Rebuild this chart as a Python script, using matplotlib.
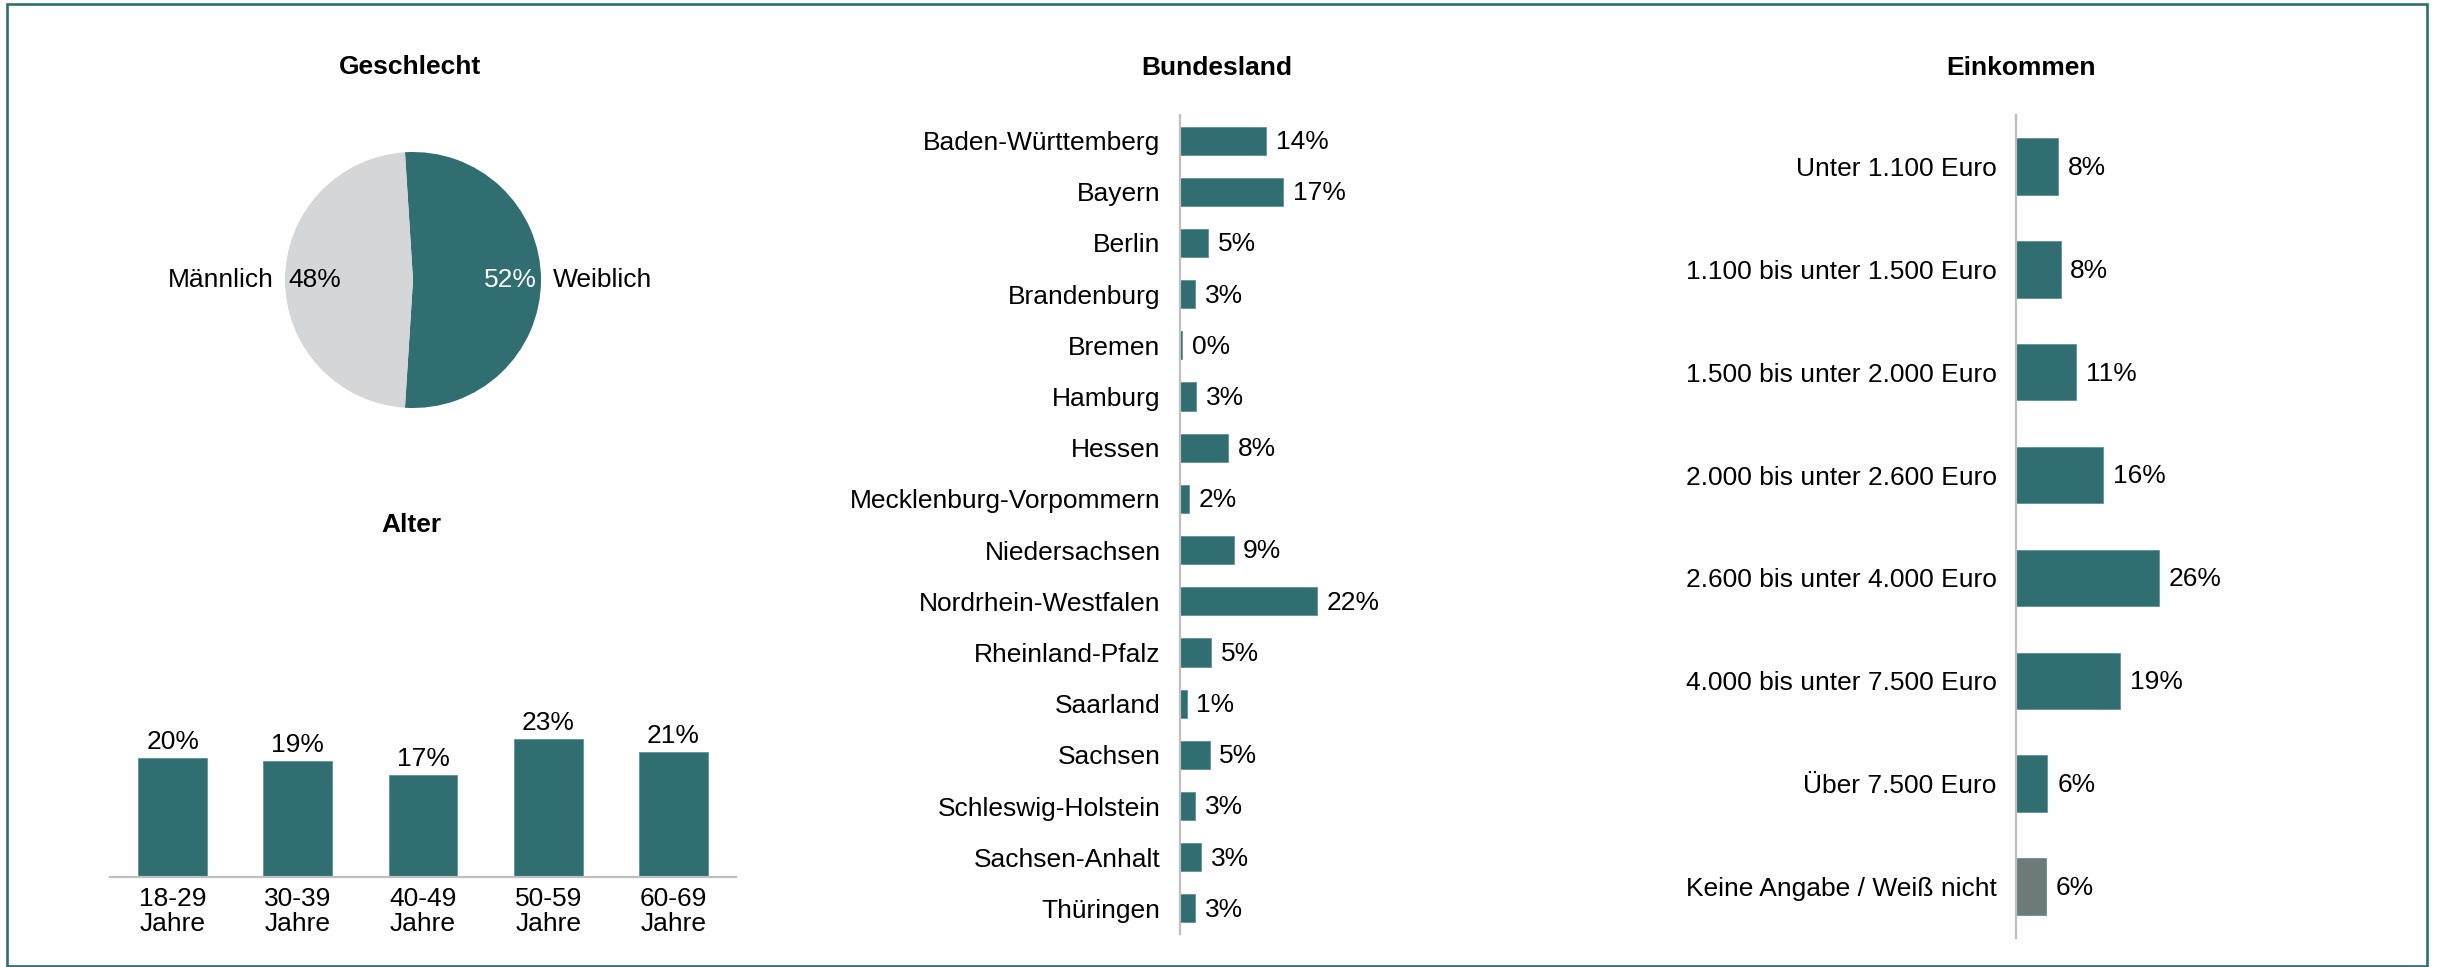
import matplotlib
matplotlib.use("Agg")
import matplotlib.pyplot as plt
from matplotlib.patches import Rectangle

plt.rcParams['font.family'] = ['Liberation Sans', 'DejaVu Sans']

# ---------------- data ----------------
gender_labels = ["Weiblich", "Männlich"]
gender_values = [52, 48]
gender_pct = ["52%", "48%"]

age_labels = ["18-29\nJahre", "30-39\nJahre", "40-49\nJahre", "50-59\nJahre", "60-69\nJahre"]
age_values = [19.9, 19.4, 17.0, 23.0, 20.8]
age_pct = ["20%", "19%", "17%", "23%", "21%"]

state_labels = ["Baden-Württemberg", "Bayern", "Berlin", "Brandenburg", "Bremen", "Hamburg",
                "Hessen", "Mecklenburg-Vorpommern", "Niedersachsen", "Nordrhein-Westfalen",
                "Rheinland-Pfalz", "Saarland", "Sachsen", "Schleswig-Holstein",
                "Sachsen-Anhalt", "Thüringen"]
state_values = [14.0, 16.8, 4.6, 2.5, 0.3, 2.6, 7.8, 1.5, 8.7, 22.2, 5.0, 1.1, 4.8, 2.5, 3.4, 2.5]
state_pct = ["14%", "17%", "5%", "3%", "0%", "3%", "8%", "2%", "9%", "22%",
             "5%", "1%", "5%", "3%", "3%", "3%"]

income_labels = ["Unter 1.100 Euro", "1.100 bis unter 1.500 Euro", "1.500 bis unter 2.000 Euro",
                 "2.000 bis unter 2.600 Euro", "2.600 bis unter 4.000 Euro",
                 "4.000 bis unter 7.500 Euro", "Über 7.500 Euro", "Keine Angabe / Weiß nicht"]
income_values = [7.8, 8.2, 11.1, 16.0, 26.4, 19.2, 5.8, 5.5]
income_pct = ["8%", "8%", "11%", "16%", "26%", "19%", "6%", "6%"]

# ---------------- style ----------------
TEAL = "#306E72"
PIE_GREY = "#D5D6D8"
DARK_GREY = "#6F7B7B"
AXIS_GREY = "#BFBFBF"
FS = 19

W, H = 2440, 967
fig = plt.figure(figsize=(W / 100, H / 100), dpi=100)
fig.patch.set_facecolor("white")


def px_axes(x0, y0_top, x1, y1_bottom):
    """Create axes from pixel box (top-left origin)."""
    return fig.add_axes([x0 / W, 1 - y1_bottom / H, (x1 - x0) / W, (y1_bottom - y0_top) / H])


def title_at(x, y, s):
    fig.text(x / W, 1 - y / H, s, ha="center", va="center", fontsize=FS, fontweight="bold")


# border
fig.add_artist(Rectangle((7 / W, 1.5 / H), (2427 - 7) / W, (965.5 - 4) / H,
                         transform=fig.transFigure, fill=False, edgecolor="#2E6E72",
                         linewidth=1.9))

# ---------------- Geschlecht (pie) ----------------
title_at(410, 67, "Geschlecht")
cx, cy, r = 413, 280, 128
axp = px_axes(cx - r, cy - r, cx + r, cy + r)
axp.pie(gender_values, colors=[TEAL, PIE_GREY], startangle=90 + 3.6, counterclock=False,
        radius=1, wedgeprops=dict(linewidth=0))
axp.set_xlim(-1, 1)
axp.set_ylim(-1, 1)
axp.set_aspect("equal")
axp.axis("off")
axp.text(0.76, 0.0, gender_pct[0], ha="center", va="center", fontsize=FS, color="white")
axp.text(1.09, 0.0, gender_labels[0], ha="left", va="center", fontsize=FS, color="black")
axp.text(-0.77, 0.0, gender_pct[1], ha="center", va="center", fontsize=FS, color="black")
axp.text(-1.09, 0.0, gender_labels[1], ha="right", va="center", fontsize=FS, color="black")

# ---------------- Alter (column chart) ----------------
title_at(411, 525, "Alter")
base_y = 877
top_y = 640
axa = px_axes(110, top_y, 736, base_y)
xs = list(range(len(age_values)))
axa.bar(xs, age_values, width=0.55, color=TEAL, edgecolor="#5E9397", linewidth=0.6)
axa.set_xlim(-0.5, len(age_values) - 0.5)
axa.set_ylim(0, (base_y - top_y) / 5.99)
for s in ["top", "right", "left"]:
    axa.spines[s].set_visible(False)
axa.spines["bottom"].set_color(AXIS_GREY)
axa.spines["bottom"].set_linewidth(1.6)
axa.set_yticks([])
axa.set_xticks(xs)
axa.set_xticklabels(age_labels, fontsize=FS, linespacing=1.05)
axa.tick_params(axis="x", length=0, pad=7)
for x, v, t in zip(xs, age_values, age_pct):
    axa.annotate(t, (x, v), xytext=(0, 3), textcoords="offset points",
                 ha="center", va="bottom", fontsize=FS)


def hbar_panel(x_axis, y_top, y_bottom, width_px, px_per_pct, labels, values, pcts, colors):
    ax = px_axes(x_axis, y_top, x_axis + width_px, y_bottom)
    ys = list(range(len(values)))
    ax.barh(ys, values, height=0.55, color=colors, edgecolor="#5E9397", linewidth=0.6)
    ax.set_ylim(len(values) - 0.5, -0.5)
    ax.set_xlim(0, width_px / px_per_pct)
    for s in ["top", "right", "bottom"]:
        ax.spines[s].set_visible(False)
    ax.spines["left"].set_color(AXIS_GREY)
    ax.spines["left"].set_linewidth(1.6)
    ax.set_xticks([])
    ax.set_yticks(ys)
    ax.set_yticklabels(labels, fontsize=FS)
    ax.tick_params(axis="y", length=0, pad=14)
    for y, v, t in zip(ys, values, pcts):
        ax.annotate(t, (v, y), xytext=(7, -1), textcoords="offset points",
                    ha="left", va="center", fontsize=FS)
    return ax


# ---------------- Bundesland ----------------
title_at(1217, 68, "Bundesland")
hbar_panel(1180, 115, 934, 260, 6.15, state_labels, state_values, state_pct,
           [TEAL] * len(state_values))

# ---------------- Einkommen ----------------
title_at(2021, 68, "Einkommen")
inc_colors = [TEAL] * (len(income_values) - 1) + [DARK_GREY]
hbar_panel(2016, 115, 938, 380, 5.43, income_labels, income_values, income_pct, inc_colors)

fig.savefig("out.png", dpi=100, facecolor="white")
